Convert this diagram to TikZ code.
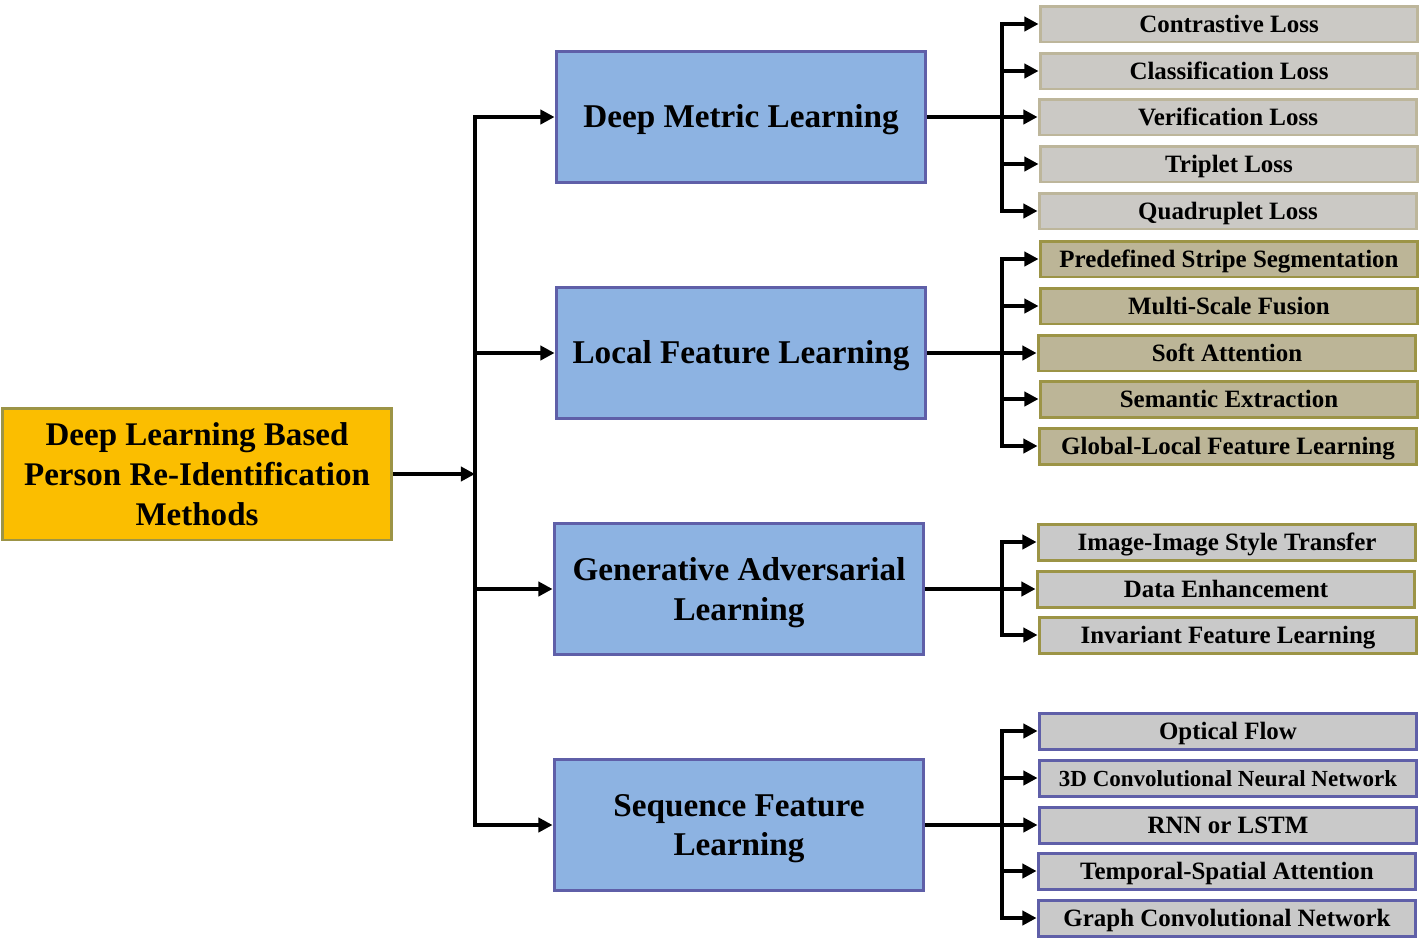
\documentclass[tikz,border=0pt]{standalone}
\usepackage{fontspec}
\setmainfont{Liberation Serif}
\usetikzlibrary{arrows.meta}

\definecolor{rootfill}{RGB}{251,190,0}
\definecolor{oliveline}{RGB}{156,148,70}
\definecolor{midfill}{RGB}{141,179,226}
\definecolor{purpleline}{RGB}{95,95,168}
\definecolor{lossfill}{RGB}{203,201,197}
\definecolor{lossline}{RGB}{189,182,155}
\definecolor{khakifill}{RGB}{188,181,151}
\definecolor{greyfill}{RGB}{201,201,201}

\begin{document}
\begin{tikzpicture}[x=0.02cm, y=-0.02cm, >={Triangle[length=8pt,width=8pt]},
    conn/.style={line width=2pt},
    box/.style={draw, line width=1.7pt, align=center, inner sep=2pt},
    rootbox/.style={box, fill=rootfill, draw=oliveline, minimum width=7.8cm, minimum height=2.64cm, font=\bfseries\fontsize{18.8}{22.7}\selectfont},
    midbox/.style={box, fill=midfill, draw=purpleline, minimum width=7.4cm, minimum height=2.62cm, font=\bfseries\fontsize{18.9}{22.7}\selectfont},
    leafbox/.style={box, minimum width=7.56cm, minimum height=0.72cm, text height=9.4pt, text depth=0pt, font=\bfseries\fontsize{14.2}{17}\selectfont},
    lossbox/.style={leafbox, fill=lossfill, draw=lossline},
    partbox/.style={leafbox, fill=khakifill, draw=oliveline},
    ganbox/.style={leafbox, fill=greyfill, draw=oliveline},
    seqbox/.style={leafbox, fill=greyfill, draw=purpleline}]
    \useasboundingbox (0,0) rectangle (1421,948);

    % root and the four method families
    \node[rootbox] (root) at (197,474) {Deep Learning Based\\Person Re-Identification\\Methods};
    \node[midbox, text height=12.5pt, text depth=0pt] (dml) at (741,117) {Deep Metric Learning};
    \node[midbox, text height=12.5pt, text depth=0pt] (lfl) at (741,353) {Local Feature Learning};
    \node[midbox, text depth=0pt] (gal) at (739,589) {Generative Adversarial\\Learning};
    \node[midbox, text depth=0pt] (sfl) at (739,825) {Sequence Feature\\Learning};

    \coordinate (trunk) at (475,474);
    \draw[conn, ->] (root.east) -- (trunk);
    \foreach \m in {dml,lfl,gal,sfl}
        \draw[conn, ->] (trunk) |- (\m.west);

    % deep metric learning
    \node[lossbox] (c1) at (1229,24) {Contrastive Loss};
    \node[lossbox] (c2) at (1229,71) {Classification Loss};
    \node[lossbox] (c3) at (1228,117) {Verification Loss};
    \node[lossbox] (c4) at (1229,164) {Triplet Loss};
    \node[lossbox] (c5) at (1228,211) {Quadruplet Loss};

    % local feature learning
    \node[partbox] (p1) at (1229,259) {Predefined Stripe Segmentation};
    \node[partbox] (p2) at (1229,306) {Multi-Scale Fusion};
    \node[partbox] (p3) at (1227,353) {Soft Attention};
    \node[partbox] (p4) at (1229,399) {Semantic Extraction};
    \node[partbox] (p5) at (1228,446) {Global-Local Feature Learning};

    % generative adversarial learning
    \node[ganbox] (g1) at (1227,542) {Image-Image Style Transfer};
    \node[ganbox] (g2) at (1226,589) {Data Enhancement};
    \node[ganbox] (g3) at (1228,635) {Invariant Feature Learning};

    % sequence feature learning
    \node[seqbox] (s1) at (1228,731) {Optical Flow};
    \node[seqbox, font=\bfseries\fontsize{13.1}{15}\selectfont] (s2) at (1228,778) {3D Convolutional Neural Network};
    \node[seqbox] (s3) at (1228,825) {RNN or LSTM};
    \node[seqbox] (s4) at (1227,871) {Temporal-Spatial Attention};
    \node[seqbox] (s5) at (1227,918) {Graph Convolutional Network};

    \coordinate (bus1) at (1002,117);
    \coordinate (bus2) at (1002,353);
    \coordinate (bus3) at (1002,589);
    \coordinate (bus4) at (1002,825);
    \draw[conn] (dml.east) -- (bus1);
    \draw[conn] (lfl.east) -- (bus2);
    \draw[conn] (gal.east) -- (bus3);
    \draw[conn] (sfl.east) -- (bus4);
    \foreach \n in {1,...,5} {
        \draw[conn, ->] (bus1) |- (c\n.west);
        \draw[conn, ->] (bus2) |- (p\n.west);
        \draw[conn, ->] (bus4) |- (s\n.west);
    }
    \foreach \n in {1,2,3}
        \draw[conn, ->] (bus3) |- (g\n.west);
\end{tikzpicture}
\end{document}
